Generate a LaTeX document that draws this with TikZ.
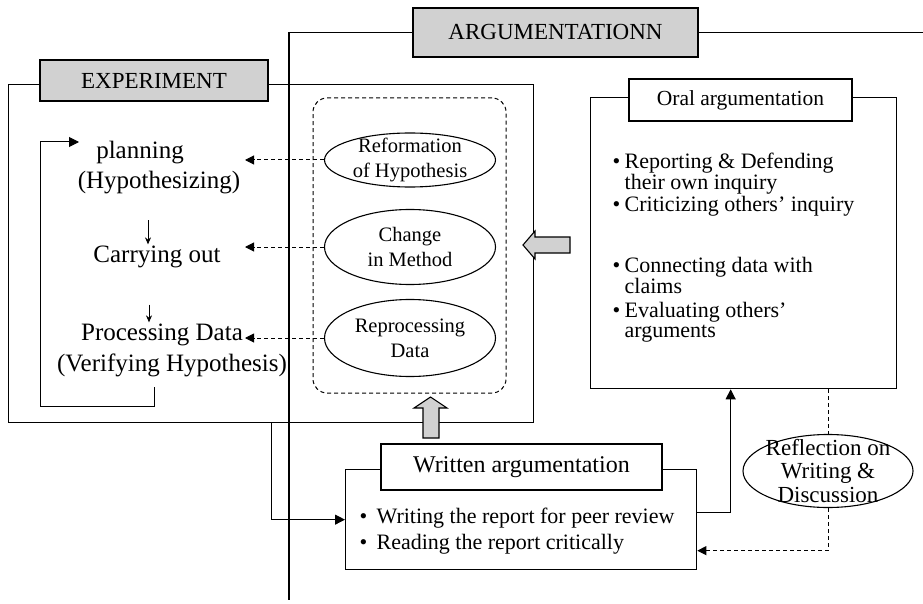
\documentclass[tikz,border=0pt]{standalone}
\usepackage{fontspec}
\setmainfont{Liberation Serif}
\usetikzlibrary{arrows.meta, shapes.geometric, positioning, calc}

\newcommand{\bul}[1][12pt]{\makebox[#1][l]{\textbullet}}
\newcommand{\ind}[1][12pt]{\hspace*{#1}}

\begin{document}
\begin{tikzpicture}[x=1pt, y=-1pt, line width=1.3pt,
    titlebox/.style={draw, rectangle, inner sep=0pt},
    framebox/.style={draw, rectangle, inner sep=0pt, anchor=north west},
    stage/.style={inner sep=1pt, font=\fontsize{25}{28}\selectfont},
    idea/.style={draw, ellipse, inner sep=0pt, minimum width=171pt, line width=1.1pt},
    ideatext/.style={inner sep=0pt, align=center, font=\fontsize{20.5}{25}\selectfont},
    bitem/.style={inner sep=0pt, anchor=north west, align=left, font=\fontsize{22}{20}\selectfont},
    link/.style={line width=1pt, -{Triangle[length=10pt, width=10pt]}},
    dashline/.style={dashed, dash pattern=on 4pt off 3pt, line width=1pt},
    dashlink/.style={dashline, -{Triangle[length=9pt, width=9pt]}},
    flow/.style={line width=1pt, -{Stealth[length=7pt, width=6pt]}},
    fatarrow/.style={draw, fill=black!18, line width=1.1pt}
]
\useasboundingbox (0,0) rectangle (923,604);

% --- EXPERIMENT ---
\node[framebox, minimum width=525pt, minimum height=338pt] (expframe) at (8,84) {};
\node[titlebox, fill=black!18, minimum width=228pt, minimum height=41pt,
      font=\fontsize{23}{27}\selectfont] (exptitle) at (154,80.5) {EXPERIMENT};

\node[stage] (plan) at (140,153) {planning};
\node[stage] (hypo) at (159,183) {(Hypothesizing)};
\node[stage] (carry) at (157,257) {Carrying out};
\node[stage] (procdata) at (162,335) {Processing Data};
\node[stage] (verify) at (172,365) {(Verifying Hypothesis)};

\draw[flow, shorten <=24pt, shorten >=0pt] ([xshift=-11pt]hypo.south) -- ([xshift=-9pt]carry.north);
\draw[flow, shorten <=35pt, shorten >=0pt] ([xshift=-8pt]carry.south) -- ([xshift=-13pt]procdata.north);

% back to planning
\coordinate (loopstart) at (154,387);
\coordinate (loopcorner) at (40,406);
\coordinate (loopend) at (79,142);
\draw[link] (loopstart) |- (loopcorner) |- (loopend);

% --- ARGUMENTATION ---
\node[titlebox, fill=black!18, minimum width=285pt, minimum height=49pt,
      font=\fontsize{23}{27}\selectfont] (argtitle) at (555.5,32.5) {ARGUMENTATIONN};
\coordinate (argfoot) at (289,600);
\coordinate (argedge) at (923,0);
\draw (argtitle.west) -| (argfoot);
\draw (argtitle.east) -- (argtitle.east -| argedge);

% revisions
\node[draw, dashline, rounded corners=14pt, minimum width=193pt, minimum height=295pt] (revisebox) at (409.5,245.5) {};
\node[idea, minimum height=54pt] (reform) at (410,160) {};
\node[ideatext] (reformtext) at (reform) {Reformation\\of Hypothesis};
\node[idea, minimum height=75pt] (change) at (410,247) {};
\node[ideatext] (changetext) at (change) {Change\\in Method};
\node[idea, minimum height=77pt] (reproc) at (410,338) {};
\node[ideatext] (reproctext) at (reproc) {Reprocessing\\Data};

\coordinate (tipcol) at (245,0);
\foreach \src in {reform, change, reproc}
    \draw[dashlink] (\src.west) -- (\src.west -| tipcol);

% block arrows
\filldraw[fatarrow] (523,245) -- (535,231) -- (535,237) -- (570,237) -- (570,253) -- (535,253) -- (535,259) -- cycle;
\filldraw[fatarrow] (430.5,397) -- (447,408) -- (439,408) -- (439,438) -- (423,438) -- (423,408) -- (414,408) -- cycle;

% --- Oral argumentation ---
\node[framebox, minimum width=306pt, minimum height=291pt] (oral) at (590,97) {};
\node[titlebox, fill=white, minimum width=223pt, minimum height=42pt,
      font=\fontsize{21.5}{26}\selectfont] (oraltitle) at (740.5,100) {Oral argumentation};
\node[bitem] (oral1) at (612,152) {\bul Reporting \& Defending\\\ind their own inquiry};
\node[bitem] (oral2) at (612,196) {\bul Criticizing others' inquiry};
\node[bitem] (oral3) at (612,257) {\bul Connecting data with\\\ind claims};
\node[bitem] (oral4) at (612,302) {\bul Evaluating others'\\\ind arguments};

% --- Written argumentation ---
\node[framebox, minimum width=351pt, minimum height=100pt] (written) at (345,469) {};
\node[titlebox, fill=white, minimum width=281pt, minimum height=46pt,
      font=\fontsize{24}{28}\selectfont] (writtitle) at (521.5,467) {Written argumentation};
\node[bitem, anchor=west, font=\fontsize{22}{26}\selectfont] (writtext) at (359,531)
    {\bul[17pt]Writing the report for peer review\\\bul[17pt]Reading the report critically};

% --- Reflection ---
\node[idea, minimum width=170pt, minimum height=73pt] (reflect) at (828,471) {};
\node[inner sep=0pt, align=center, font=\fontsize{23}{23.5}\selectfont] (reflecttext) at (reflect)
    {Reflection on\\Writing \&\\Discussion};

% connectors
\draw[link] (expframe.south) |- (written.west);
\draw[link] ([yshift=7pt]written.east) -| ([xshift=-13pt]oral.south);
\draw[dashline] (reflect.north |- oral.south) -- (reflect.north);
\draw[dashlink] (reflect.south) |- ([yshift=-31pt]written.east);
\end{tikzpicture}
\end{document}
